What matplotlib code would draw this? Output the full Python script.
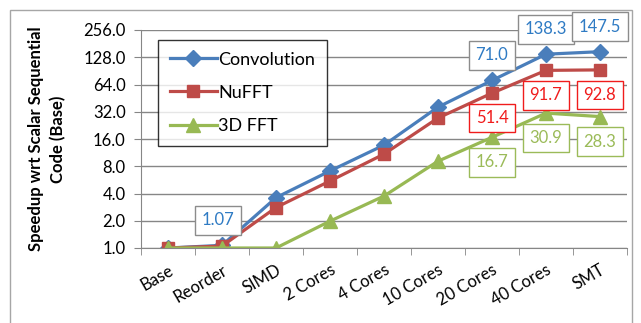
import numpy as np
import matplotlib.pyplot as plt
from matplotlib.patches import Rectangle
from matplotlib.ticker import FixedLocator

plt.rcParams['font.family'] = ['Lato', 'DejaVu Sans']

stages = ["Base", "Reorder", "SIMD", "2 Cores", "4 Cores", "10 Cores",
          "20 Cores", "40 Cores", "SMT"]
convolution = [1.0, 1.07, 3.6, 7.1, 13.7, 36.0, 71.0, 138.3, 147.5]
nufft = [1.0, 1.05, 2.8, 5.5, 10.9, 27.3, 51.4, 91.7, 92.8]
fft3d = [1.0, 1.0, 1.0, 1.98, 3.75, 9.1, 16.7, 30.9, 28.3]
y_ticks = [1, 2, 4, 8, 16, 32, 64, 128, 256]

# which points carry a value box, and where the box sits (dx, dy in points)
conv_labels = {1: (-3, 18), 6: (0, 18), 7: (0, 18), 8: (0, 18)}
nufft_labels = {6: (0, -18), 7: (0, -18), 8: (0, -18)}
fft_labels = {6: (0, -18), 7: (0, -18), 8: (0, -18)}

blue, red, green = "#4A7EBB", "#BE4B48", "#98B954"

fig = plt.figure(figsize=(6.41, 3.23), dpi=100)
fig.patches.append(Rectangle((10 / 641, -0.01), 622 / 641, 1 - 10 / 323 + 0.01,
                             transform=fig.transFigure, fill=False,
                             edgecolor="#A6A6A6", linewidth=1))
ax = fig.add_axes([141 / 641, 1 - 248 / 323, 486 / 641, 218 / 323])

x = np.arange(len(stages))
ax.plot(x, convolution, color=blue, lw=2.3, marker="D", ms=8, label="Convolution")
ax.plot(x, nufft, color=red, lw=2.3, marker="s", ms=8.5, label="NuFFT")
ax.plot(x, fft3d, color=green, lw=2.3, marker="^", ms=9.5, label="3D FFT")

ax.set_yscale("log", base=2)
ax.set_ylim(1, 256)
ax.set_xlim(-0.5, len(stages) - 0.5)
ax.yaxis.set_major_locator(FixedLocator(y_ticks))
ax.yaxis.set_minor_locator(FixedLocator([]))
ax.set_yticklabels([f"{v:.1f}" for v in y_ticks], fontsize=12)
ax.grid(axis="y", color="#868686", lw=1)
ax.set_axisbelow(True)

ax.set_xticks(x)
ax.set_xticklabels(stages, rotation=30, ha="right", rotation_mode="anchor",
                   fontsize=12)
ax.tick_params(axis="x", length=0, pad=10)
ax.set_xticks(np.arange(len(stages) + 1) - 0.5, minor=True)
ax.tick_params(axis="x", which="minor", length=5, color="#868686")
ax.tick_params(axis="y", length=5, color="#868686", pad=6)

for side in ["top", "right"]:
    ax.spines[side].set_visible(False)
for side in ["left", "bottom"]:
    ax.spines[side].set_color("#868686")

ax.set_ylabel("Speedup wrt Scalar Sequential\nCode (Base)", fontsize=12,
              fontweight="bold", labelpad=12, linespacing=1.45)


def add_boxes(values, where, text_color, edge_color, fmt):
    for i, (dx, dy) in where.items():
        ax.annotate(fmt(values[i]), (x[i], values[i]), xytext=(dx, dy),
                    textcoords="offset points", ha="center", va="center",
                    fontsize=12, color=text_color,
                    bbox=dict(boxstyle="square,pad=0.38", fc="white",
                              ec=edge_color, lw=1))


add_boxes(convolution, conv_labels, "#2F7BC4", "#8C8C8C",
          lambda v: f"{v:.2f}" if v < 2 else f"{v:.1f}")
add_boxes(nufft, nufft_labels, "#F01C1C", "#F01C1C", lambda v: f"{v:.1f}")
add_boxes(fft3d, fft_labels, "#9BBB59", "#9BBB59", lambda v: f"{v:.1f}")

leg = ax.legend(loc="upper left", bbox_to_anchor=(0.035, 0.955), fontsize=13,
                frameon=True, fancybox=False, edgecolor="black",
                handlelength=2.6, labelspacing=0.95, borderpad=0.65,
                handletextpad=0.1, borderaxespad=0)
leg.get_frame().set_linewidth(1)

fig.savefig("out.png", dpi=100)
